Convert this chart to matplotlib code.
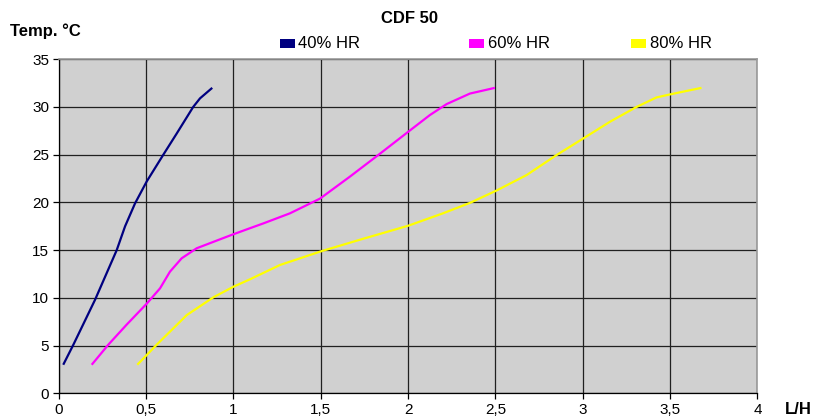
"""CDF 50: temperature against flow rate for three humidity levels."""

import matplotlib
matplotlib.use("Agg")
import matplotlib.pyplot as plt
from matplotlib.patches import Rectangle

# 40% HR
lh_40 = [0.026, 0.084, 0.208, 0.332, 0.38, 0.437, 0.504, 0.599, 0.675, 0.77, 0.809, 0.879]
temp_40 = [3.0, 5.1, 9.8, 15.0, 17.5, 19.9, 22.2, 25.0, 27.2, 30.0, 30.9, 32.0]

# 60% HR
lh_60 = [0.189, 0.284, 0.389, 0.504, 0.58, 0.637, 0.704, 0.79, 0.904, 0.99, 1.095,
         1.171, 1.324, 1.496, 1.667, 1.839, 2.001, 2.125, 2.221, 2.354, 2.497]
temp_60 = [3.0, 5.1, 7.2, 9.4, 11.0, 12.75, 14.15, 15.2, 16.0, 16.6, 17.3,
           17.8, 18.86, 20.4, 22.7, 25.1, 27.4, 29.15, 30.3, 31.4, 32.0]

# 80% HR
lh_80 = [0.45, 0.561, 0.733, 0.885, 1.0, 1.095, 1.267, 1.505, 1.744, 2.001, 2.2,
         2.354, 2.507, 2.679, 2.85, 3.003, 3.156, 3.308, 3.423, 3.509, 3.68]
temp_80 = [3.0, 5.1, 8.2, 10.06, 11.17, 11.95, 13.45, 14.9, 16.2, 17.56, 18.86,
           19.95, 21.25, 22.87, 24.96, 26.7, 28.45, 30.0, 31.0, 31.35, 32.0]

series = [
    ("40% HR", lh_40, temp_40, "#000080"),
    ("60% HR", lh_60, temp_60, "#ff00ff"),
    ("80% HR", lh_80, temp_80, "#ffff00"),
]

x_ticks = [0, 0.5, 1, 1.5, 2, 2.5, 3, 3.5, 4]
x_labels = ["0", "0,5", "1", "1,5", "2", "2,5", "3", "3,5", "4"]
y_ticks = [0, 5, 10, 15, 20, 25, 30, 35]

plt.rcParams["font.family"] = ["Liberation Sans Narrow", "Liberation Sans", "DejaVu Sans"]

fig = plt.figure(figsize=(8.13, 4.19), dpi=100)
ax = fig.add_axes([0.0722, 0.0611, 0.8594, 0.7976])
ax.set_facecolor("#d0d0d0")

for label, xs, ys, color in series:
    ax.plot(xs, ys, color=color, linewidth=1.6, solid_capstyle="butt",
            solid_joinstyle="round")

ax.set_xlim(0, 4)
ax.set_ylim(0, 35)
ax.set_xticks(x_ticks)
ax.set_xticklabels(x_labels)
ax.set_yticks(y_ticks)
ax.grid(True, color="#202020", linewidth=0.9)
ax.set_axisbelow(True)
ax.tick_params(labelsize=11, length=4, width=0.9, direction="out", pad=3)
for side in ["left", "bottom"]:
    ax.spines[side].set_color("#000000")
    ax.spines[side].set_linewidth(0.9)
for side in ["top", "right"]:
    ax.spines[side].set_color("#9a9a9a")
    ax.spines[side].set_linewidth(1.2)

fig.text(0.504, 0.955, "CDF 50", fontsize=12, weight="bold", ha="center", va="center")
fig.text(0.012, 0.925, "Temp. °C", fontsize=12, weight="bold", ha="left", va="center")
fig.text(0.965, 0.022, "L/H", fontsize=12, weight="bold", ha="left", va="center")

# legend laid out in one row like the original
legend_x = [0.344, 0.577, 0.776]
for (label, xs, ys, color), lx in zip(series, legend_x):
    fig.patches.append(Rectangle((lx, 0.885), 0.0185, 0.022, transform=fig.transFigure,
                                 facecolor=color, edgecolor="none"))
    fig.text(lx + 0.023, 0.896, label, fontsize=12, ha="left", va="center")

fig.savefig("out.png", dpi=100)
